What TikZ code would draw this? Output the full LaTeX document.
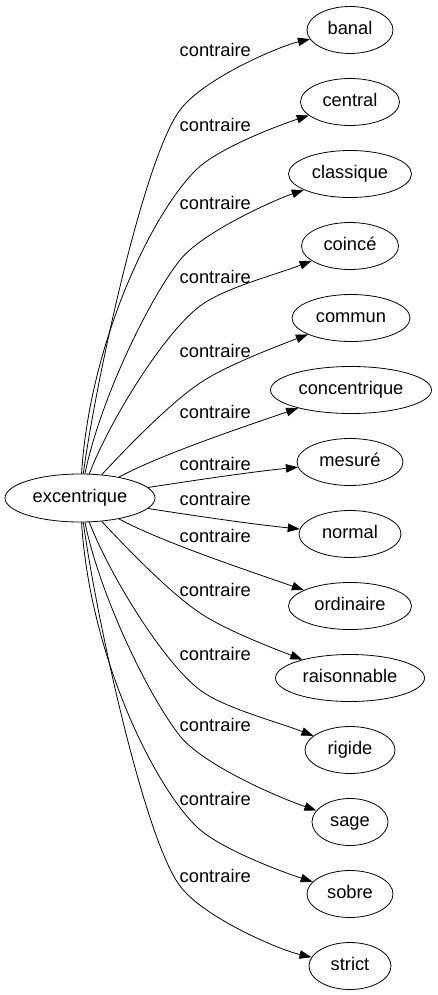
\documentclass[tikz,border=0pt]{standalone}
\usepackage{fontspec}
\setmainfont{Liberation Sans}
\usetikzlibrary{shapes.geometric,arrows.meta}
\tikzset{
  word/.style={draw, ellipse, inner sep=0pt, minimum height=47pt, line width=0.8pt,
    font=\fontsize{18.3}{22}\selectfont, text height=13pt, text depth=4pt},
  rel/.style={draw, line width=0.8pt, -{Triangle[length=12pt,width=8.5pt]}},
  lab/.style={anchor=base west, inner sep=0pt, font=\fontsize{18.3}{22}\selectfont}
}
\begin{document}
\begin{tikzpicture}[x=1pt,y=-1pt]
\useasboundingbox (0,0) rectangle (437,995);
% nodes
\node[word, minimum width=150pt, minimum height=48pt] (exc) at (80,498) {excentrique};
\node[word, minimum width=86pt]  (banal)        at (350,30)  {banal};
\node[word, minimum width=99pt]  (central)      at (350,102) {central};
\node[word, minimum width=123pt] (classique)    at (350,174) {classique};
\node[word, minimum width=97pt]  (coince)       at (350,246) {coincé};
\node[word, minimum width=118pt] (commun)       at (351,318) {commun};
\node[word, minimum width=161pt] (concentrique) at (351,390) {concentrique};
\node[word, minimum width=106pt] (mesure)       at (350,462) {mesuré};
\node[word, minimum width=102pt] (normal)       at (350,534) {normal};
\node[word, minimum width=123pt] (ordinaire)    at (350,606) {ordinaire};
\node[word, minimum width=149pt] (raisonnable)  at (350,678) {raisonnable};
\node[word, minimum width=90pt]  (rigide)       at (350,750) {rigide};
\node[word, minimum width=76pt]  (sage)         at (350,822) {sage};
\node[word, minimum width=86pt]  (sobre)        at (350,894) {sobre};
\node[word, minimum width=82pt]  (strict)       at (350,966) {strict};
% edge labels
\node[lab] (l1)  at (179.5,56.7)  {contraire};
\node[lab] (l2)  at (179.5,131.7) {contraire};
\node[lab] (l3)  at (179.5,209.5) {contraire};
\node[lab] (l4)  at (179.5,283.7) {contraire};
\node[lab] (l5)  at (179.5,357.7) {contraire};
\node[lab] (l6)  at (179.5,418.7) {contraire};
\node[lab] (l7)  at (179.5,470.7) {contraire};
\node[lab] (l8)  at (179.5,505.7) {contraire};
\node[lab] (l9)  at (179.5,542.7) {contraire};
\node[lab] (l10) at (179.5,596.7) {contraire};
\node[lab] (l11) at (179.5,660.7) {contraire};
\node[lab] (l12) at (179.5,731.7) {contraire};
\node[lab] (l13) at (179.5,805.7) {contraire};
\node[lab] (l14) at (179.5,882.7) {contraire};
% edges, upper half
\draw[rel] (exc) .. controls (96,380) and (144,158) .. (180,110) .. controls (204,78) and (280,46) .. (banal);
\draw[rel] (exc) .. controls (90,340) and (154,210) .. (197,169) .. controls (218.6,148.3) and (276.5,126) .. (central);
\draw[rel] (exc) .. controls (100,400) and (149,299) .. (180,260) .. controls (201.7,232.7) and (272.7,200.6) .. (classique);
\draw[rel] (exc) .. controls (110,420) and (164,333) .. (200,306) .. controls (224,288) and (275,275) .. (coince);
\draw[rel] (exc) .. controls (120,455) and (166.8,405.4) .. (200,383) .. controls (224.9,366.2) and (272.4,348) .. (commun);
\draw[rel] (exc) .. controls (160,455) and (240,428) .. (concentrique);
\draw[rel] (exc) .. controls (190,481) and (250,472) .. (mesure);
% edges, lower half
\draw[rel] (exc) .. controls (190,515) and (250,524) .. (normal);
\draw[rel] (exc) .. controls (160,541) and (240,568) .. (ordinaire);
\draw[rel] (exc) .. controls (120,541) and (166.8,590.6) .. (200,613) .. controls (224.9,629.8) and (272.4,648) .. (raisonnable);
\draw[rel] (exc) .. controls (110,576) and (164,663) .. (200,690) .. controls (224,708) and (275,721) .. (rigide);
\draw[rel] (exc) .. controls (100,596) and (149,697) .. (180,736) .. controls (201.7,763.3) and (272.7,795.4) .. (sage);
\draw[rel] (exc) .. controls (90,656) and (154,786) .. (197,827) .. controls (218.6,847.7) and (276.5,870) .. (sobre);
\draw[rel] (exc) .. controls (96,616) and (144,838) .. (180,886) .. controls (204,918) and (280,950) .. (strict);
\end{tikzpicture}
\end{document}
